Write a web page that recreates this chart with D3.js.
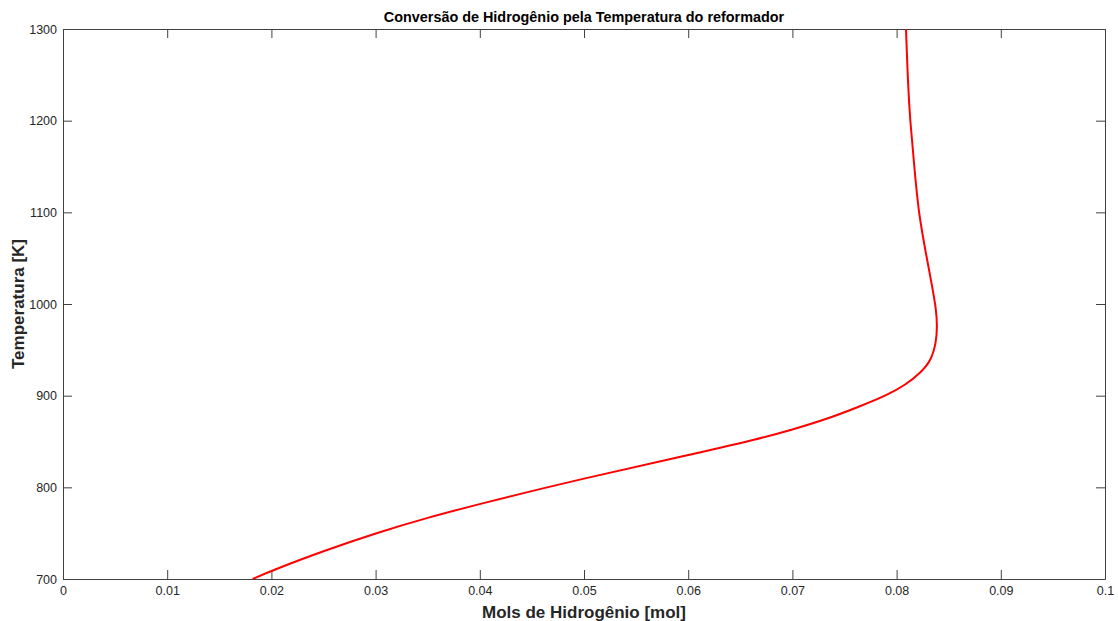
<!DOCTYPE html>
<html>
<head>
<meta charset="utf-8">
<script src="https://cdn.jsdelivr.net/npm/d3@7"></script>
<style>
  body { margin: 0; background: #fff; }
  text { font-family: "Liberation Sans", Arial, sans-serif; }
</style>
</head>
<body>
<script>
// curva: mols de H2 x temperatura
var mols  = [0.0182, 0.0200, 0.0251, 0.0300, 0.0350, 0.0400, 0.0500, 0.0600, 0.0668,
             0.0700, 0.0732, 0.0764, 0.0790, 0.0809, 0.0823, 0.0833, 0.0838, 0.0839,
             0.0838, 0.0834, 0.0828, 0.0821, 0.0817, 0.0813, 0.0811, 0.0809];
var temps = [700, 709, 731, 750, 767, 782, 810, 835, 853,
             863, 874, 888, 900, 912, 925, 938, 958, 976,
             994, 1020, 1056, 1100, 1150, 1200, 1238, 1300];

var xTicks = [0, 0.01, 0.02, 0.03, 0.04, 0.05, 0.06, 0.07, 0.08, 0.09, 0.1];
var yTicks = [700, 800, 900, 1000, 1100, 1200, 1300];

var titulo = 'Conversão de Hidrogênio pela Temperatura do reformador';
var xLabel = 'Mols de Hidrogênio [mol]';
var yLabel = 'Temperatura [K]';

var W = 1118, H = 621;
var mLeft = 63, mRight = 1105, mTop = 29, mBottom = 579;

var svg = d3.select('body').append('svg')
    .attr('width', W)
    .attr('height', H);

var x = d3.scaleLinear().domain([0, 0.1]).range([mLeft, mRight]);
var y = d3.scaleLinear().domain([700, 1300]).range([mBottom, mTop]);

var axisColor = '#404040';
var tickLen = 9;

// eixos com ticks para dentro (estilo matlab)
var gx = svg.append('g').attr('transform', 'translate(0,' + mBottom + ')')
    .call(d3.axisBottom(x).tickValues(xTicks).tickSizeInner(-tickLen).tickSizeOuter(0)
        .tickPadding(7).tickFormat(function(d) { return String(+d.toFixed(2)); }));
var gxTop = svg.append('g').attr('transform', 'translate(0,' + mTop + ')')
    .call(d3.axisTop(x).tickValues(xTicks).tickSizeInner(-tickLen).tickSizeOuter(0).tickFormat(''));
var gy = svg.append('g').attr('transform', 'translate(' + mLeft + ',0)')
    .call(d3.axisLeft(y).tickValues(yTicks).tickSizeInner(-tickLen).tickSizeOuter(0)
        .tickPadding(6).tickFormat(d3.format('d')));
var gyRight = svg.append('g').attr('transform', 'translate(' + mRight + ',0)')
    .call(d3.axisRight(y).tickValues(yTicks).tickSizeInner(-tickLen).tickSizeOuter(0).tickFormat(''));

[gx, gxTop, gy, gyRight].forEach(function(g) {
    g.selectAll('path, line').attr('stroke', axisColor);
    g.selectAll('text')
        .attr('fill', '#262626')
        .style('font-size', '12.5px')
        .style('font-family', '"Liberation Sans", Arial, sans-serif');
});

// curva (basis suaviza o ruido da leitura)
var line = d3.line()
    .x(function(d, i) { return x(mols[i]); })
    .y(function(d) { return y(d); })
    .curve(d3.curveBasis);

svg.append('path')
    .datum(temps)
    .attr('d', line)
    .attr('fill', 'none')
    .attr('stroke', '#ff0000')
    .attr('stroke-width', 2);

// textos
svg.append('text')
    .attr('x', (mLeft + mRight) / 2)
    .attr('y', 22)
    .attr('text-anchor', 'middle')
    .style('font-size', '14.4px')
    .style('font-weight', 'bold')
    .attr('fill', '#000')
    .text(titulo);

svg.append('text')
    .attr('x', (mLeft + mRight) / 2)
    .attr('y', 618)
    .attr('text-anchor', 'middle')
    .style('font-size', '17px')
    .style('font-weight', 'bold')
    .attr('fill', '#262626')
    .text(xLabel);

svg.append('text')
    .attr('transform', 'translate(24,' + ((mTop + mBottom) / 2) + ') rotate(-90)')
    .attr('text-anchor', 'middle')
    .style('font-size', '17px')
    .style('font-weight', 'bold')
    .attr('fill', '#262626')
    .text(yLabel);
</script>
</body>
</html>
